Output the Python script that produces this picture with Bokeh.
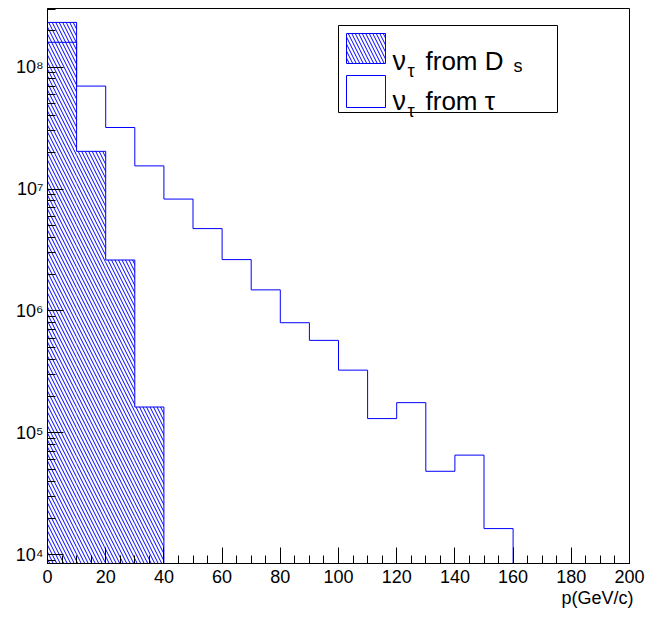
import numpy as np
from bokeh.plotting import figure
from bokeh.models import (FixedTicker, SingleIntervalTicker, Label, BoxAnnotation,
                          ColumnDataSource, Range1d, Title)
from bokeh.embed import file_html
from bokeh.resources import INLINE

# ---- data ----
bin_edges = [0, 10, 20, 30, 40, 50, 60, 70, 80, 90, 100,
             110, 120, 130, 140, 150, 160, 170, 180, 190, 200]
ds_counts = [2.33e8, 2.04e7, 2.62e6, 1.63e5, 0, 0, 0, 0, 0, 0,
             0, 0, 0, 0, 0, 0, 0, 0, 0, 0]
tau_counts = [1.60e8, 7.0e7, 3.2e7, 1.55e7, 8.28e6, 4.74e6, 2.64e6, 1.49e6, 8.01e5, 5.74e5,
              3.27e5, 1.31e5, 1.77e5, 4.84e4, 6.57e4, 1.64e4, 0, 0, 0, 0]
ytick_values = [1e4, 1e5, 1e6, 1e7, 1e8]
ytick_labels = ["10\u2074", "10\u2075", "10\u2076", "10\u2077", "10\u2078"]
x_label = "p(GeV/c)"
y_min, y_max = 8.48e3, 3.03e8
x_min, x_max = 0, 200

FONT = "Liberation Sans"
BLUE = "#0000ff"
HATCH_SCALE = 7

p = figure(width=646, height=617, y_axis_type="log", output_backend="svg",
           toolbar_location=None, x_range=Range1d(x_min, x_max),
           y_range=Range1d(y_min, y_max),
           min_border_left=47, min_border_right=17, min_border_top=8,
           min_border_bottom=54)
p.background_fill_color = "white"
p.border_fill_color = "white"
p.outline_line_color = "black"
p.outline_line_width = 1
p.outline_line_alpha = 1
p.xgrid.visible = False
p.ygrid.visible = False

edges = np.array(bin_edges, dtype=float)
ds = np.array(ds_counts, dtype=float)
tau = np.array(tau_counts, dtype=float)

# hatched Ds histogram body
mask = ds > 0
src = ColumnDataSource(dict(left=edges[:-1][mask], right=edges[1:][mask],
                            top=ds[mask], bottom=np.full(mask.sum(), y_min)))
p.quad(left="left", right="right", top="top", bottom="bottom", source=src,
       fill_color=None, line_color=None, hatch_pattern="left_diagonal_line",
       hatch_color=BLUE, hatch_scale=HATCH_SCALE, hatch_weight=1)


def contour(vals):
    v = np.where(vals > 0, vals, y_min)
    xs = np.repeat(edges, 2)
    ys = np.concatenate([[y_min], np.repeat(v, 2), [y_min]])
    return xs, ys


xs, ys = contour(ds)
p.line(xs, ys, line_color=BLUE, line_width=1)
xs, ys = contour(tau)
p.line(xs, ys, line_color=BLUE, line_width=1)

# ---- axes ----
xa = p.xaxis[0]
xa.ticker = SingleIntervalTicker(interval=20, num_minor_ticks=4)
ya = p.yaxis[0]
ya.ticker = FixedTicker(ticks=ytick_values,
                        minor_ticks=[m * 10.0 ** k for k in range(3, 9) for m in range(2, 10)])
ya.major_label_overrides = {v: s for v, s in zip(ytick_values, ytick_labels)}

for ax in (xa, ya):
    ax.axis_line_color = "black"
    ax.major_tick_line_color = "black"
    ax.minor_tick_line_color = "black"
    ax.major_tick_out = 0
    ax.minor_tick_out = 0
    ax.major_tick_in = 16
    ax.minor_tick_in = 8
    ax.major_label_text_font = FONT
    ax.major_label_text_font_size = "18px"
    ax.major_label_text_color = "black"
xa.major_label_standoff = 6
ya.major_label_standoff = 4

# x-axis title, right aligned at the end of the axis
p.add_layout(Title(text=x_label, align="right", offset=-4, standoff=0,
                   text_font=FONT, text_font_size="18px", text_font_style="normal",
                   text_color="black"), "below")

# ---- legend (frame screen units: origin at bottom-left of frame) ----
p.add_layout(BoxAnnotation(left=291, right=510, top=538, bottom=451,
                           left_units="screen", right_units="screen",
                           top_units="screen", bottom_units="screen",
                           fill_color="white", fill_alpha=1,
                           line_color="black", line_width=1, line_alpha=1))
p.add_layout(BoxAnnotation(left=299, right=338, top=530, bottom=500,
                           left_units="screen", right_units="screen",
                           top_units="screen", bottom_units="screen",
                           fill_color="white", fill_alpha=1,
                           hatch_pattern="left_diagonal_line", hatch_color=BLUE,
                           hatch_scale=HATCH_SCALE, hatch_weight=1,
                           line_color=BLUE, line_width=1, line_alpha=1))
p.add_layout(BoxAnnotation(left=299, right=338, top=488, bottom=456,
                           left_units="screen", right_units="screen",
                           top_units="screen", bottom_units="screen",
                           fill_color="white", fill_alpha=1,
                           line_color=BLUE, line_width=1, line_alpha=1))


def lab(x, y, t, size):
    p.add_layout(Label(x=x, y=y, x_units="screen", y_units="screen", text=t,
                       text_align="left", text_baseline="alphabetic",
                       text_font=FONT, text_font_size=size, text_color="black"))


lab(345, 503, "\u03bd", "27px")
lab(360, 493, "\u03c4", "18px")
lab(378, 503, "from D", "26px")
lab(466, 498, "s", "18px")
lab(345, 463, "\u03bd", "27px")
lab(360, 453, "\u03c4", "18px")
lab(378, 463, "from \u03c4", "26px")

open("out.html", "w").write(file_html(p, INLINE))
